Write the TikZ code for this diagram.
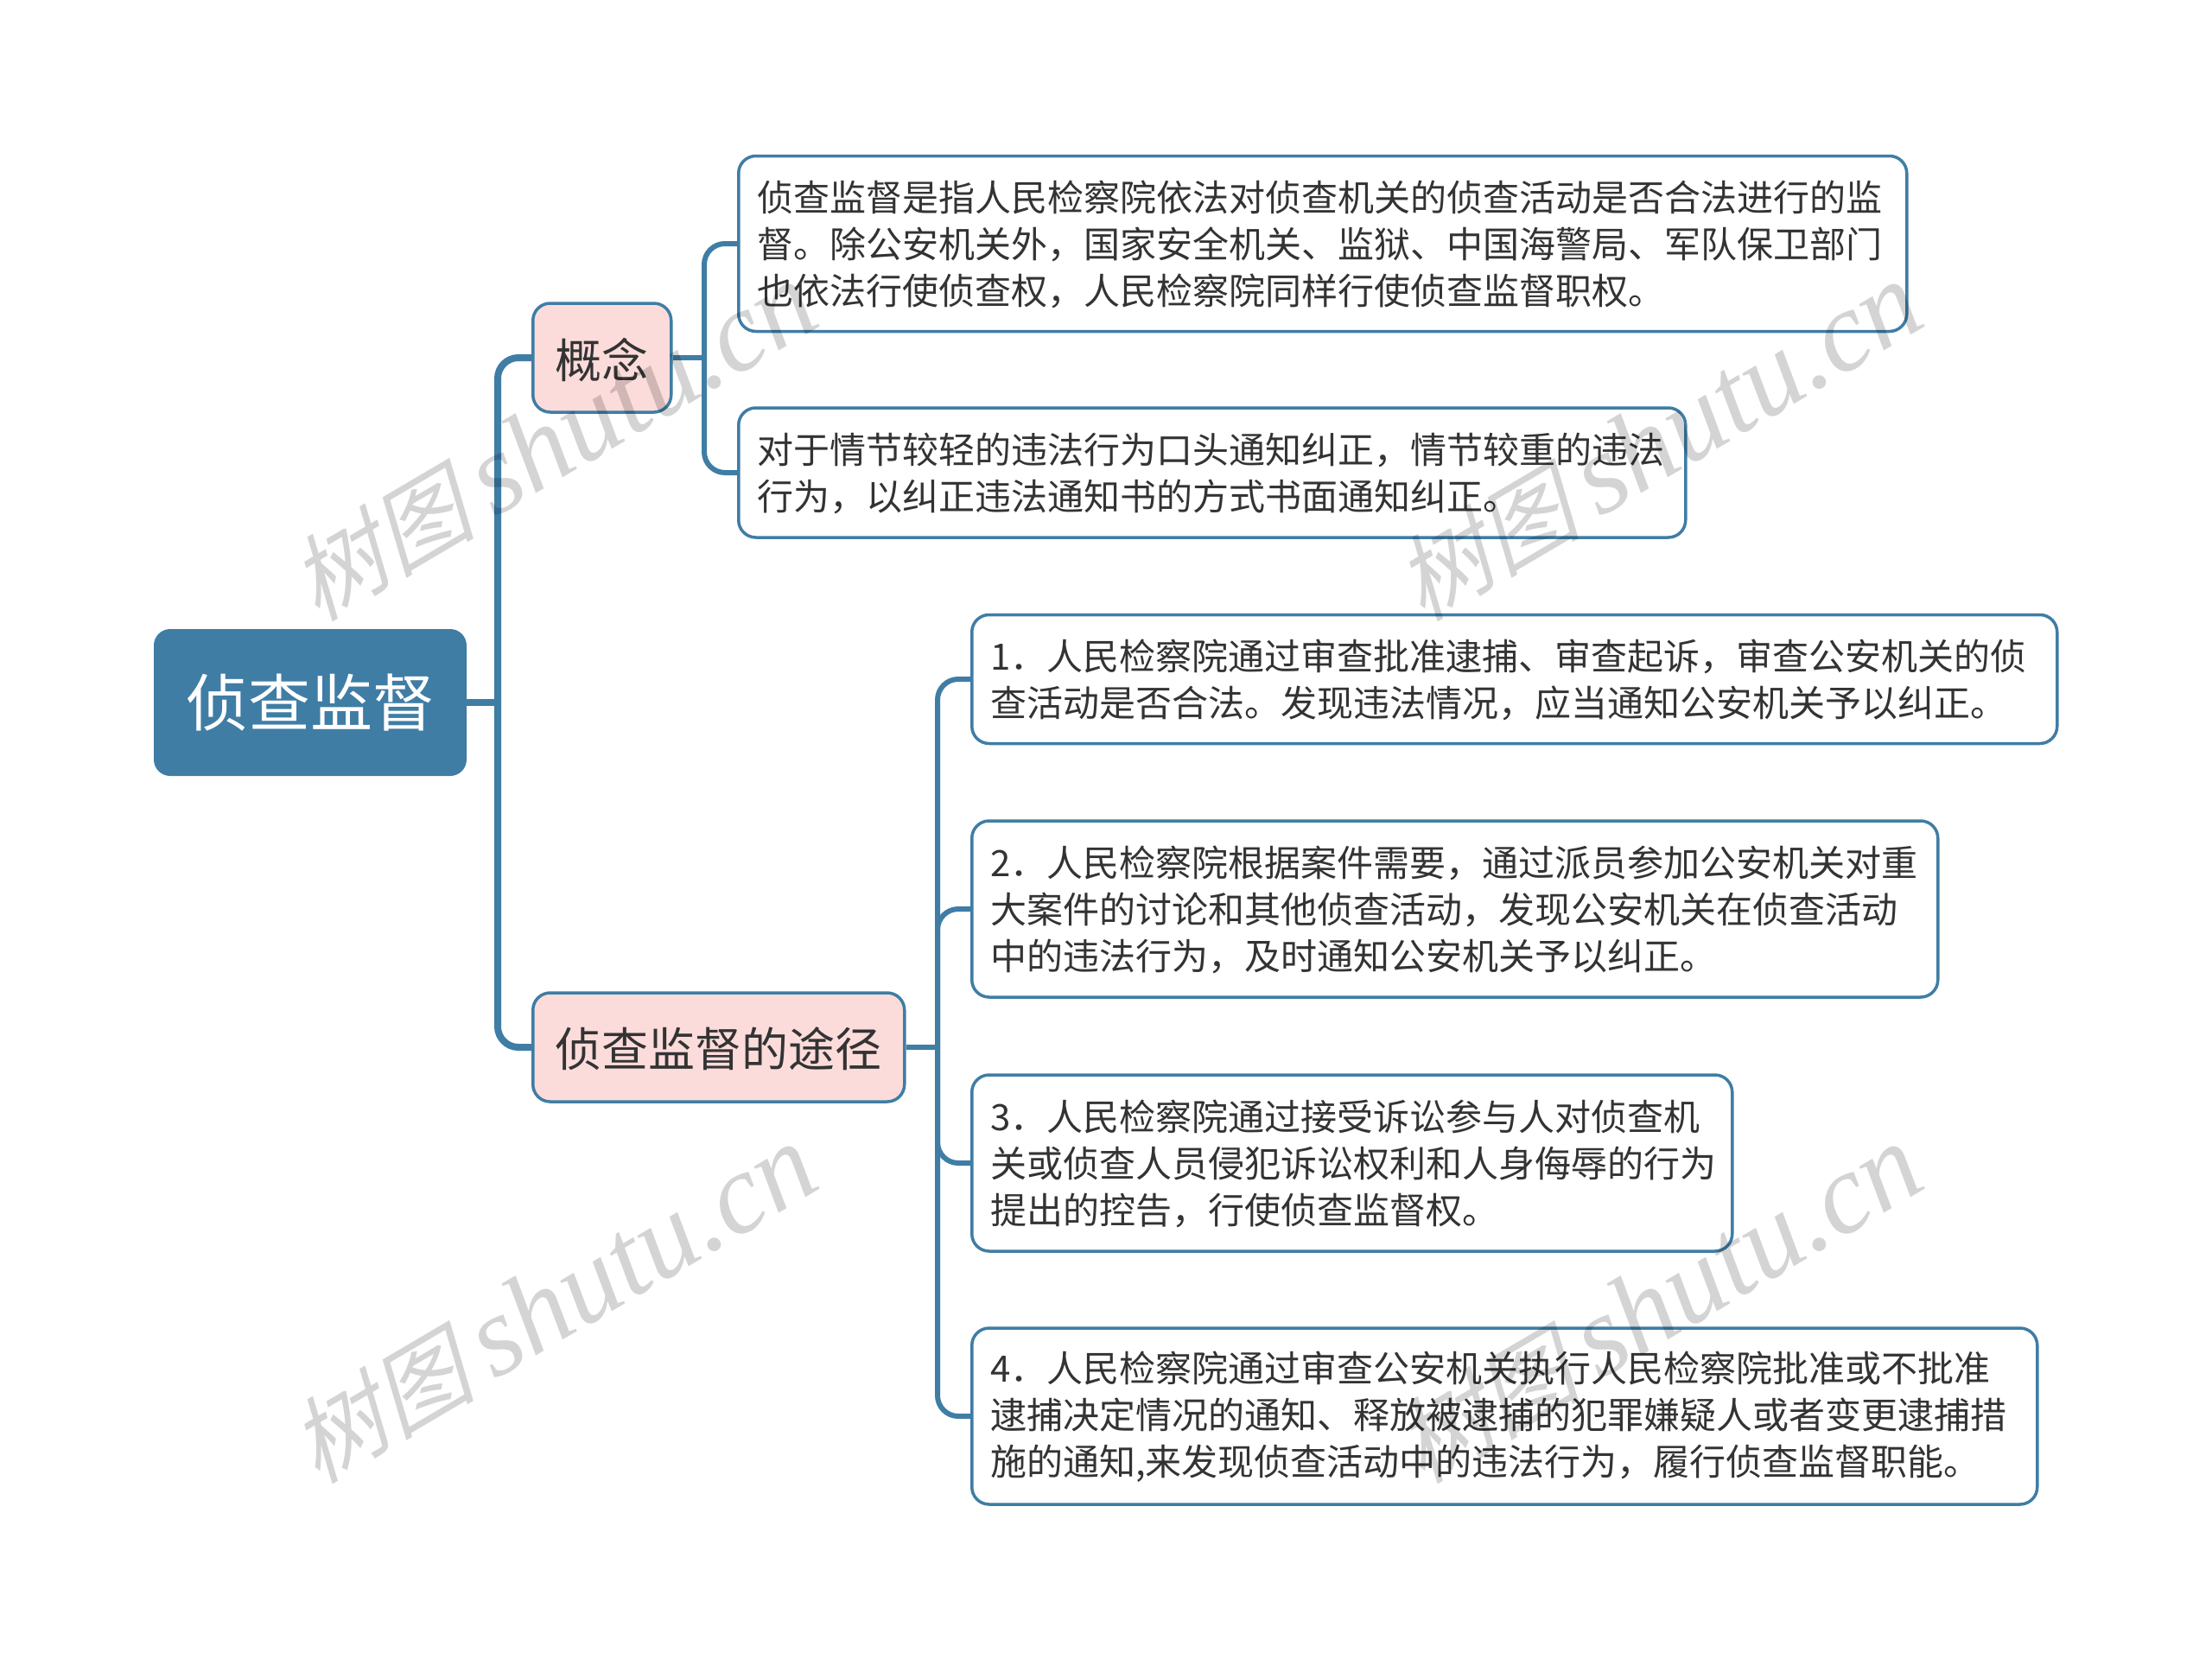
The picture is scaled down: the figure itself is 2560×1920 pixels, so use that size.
\documentclass[tikz,border=0pt]{standalone}
\usepackage{fontspec}
\setmainfont{Noto Sans CJK SC}
\newfontfamily\markcjk[FakeSlant=0.25]{Noto Sans CJK SC}
\newfontfamily\marklatin{Liberation Serif}
\newcommand{\marktext}{{\fontsize{108}{108}\selectfont\markcjk 树图}\hspace{22pt}{\fontsize{132}{132}\selectfont\marklatin\itshape shutu.cn}}
\definecolor{linkblue}{HTML}{3F7DA5}
\definecolor{pinkfill}{HTML}{FCDCDB}
\definecolor{inkgray}{HTML}{333333}
\tikzset{
    rootbox/.style={draw=linkblue, fill=linkblue, line width=2pt, rounded corners=18pt,
    text=white, font=\fontsize{72}{90}\selectfont, align=center, inner sep=0pt},
    topicbox/.style={draw=linkblue, fill=pinkfill, line width=3.5pt, rounded corners=20pt,
    text=inkgray, font=\fontsize{54}{66}\selectfont, inner sep=0pt, anchor=west, text depth=0pt},
    textbox/.style={draw=linkblue, fill=white, line width=3.5pt, rounded corners=20pt,
    text=inkgray, font=\fontsize{42}{54}\selectfont, align=left, inner xsep=21.5pt, inner ysep=0pt, anchor=west,
    execute at end node={\vspace{-1.5pt}}},
    mainlink/.style={draw=linkblue, line width=8pt, rounded corners=24pt},
    sublink/.style={draw=linkblue, line width=6pt, rounded corners=24pt},
    wmark/.style={text=black, text opacity=0.17, rotate=30.5, inner sep=0pt}
}
\begin{document}
\begin{tikzpicture}[x=1pt, y=-1pt]
    \useasboundingbox (0,0) rectangle (2560,1920);

    \node[rootbox, minimum width=360pt, minimum height=168pt] (Root) at (359,813) {侦查监督};

    \node[topicbox, minimum width=160pt, minimum height=126pt] (A) at (615,414) {概念};
    \node[topicbox, minimum width=430pt, minimum height=126pt] (B) at (615,1212) {侦查监督的途径};

    \node[textbox, text width=1309pt, minimum height=203pt] (A1) at (853,282) {侦查监督是指人民检察院依法对侦查机关的侦查活动是否合法进行的监\\督。除公安机关外，国家安全机关、监狱、中国海警局、军队保卫部门\\也依法行使侦查权，人民检察院同样行使侦查监督职权。};
    \node[textbox, text width=1053pt, minimum height=150pt] (A2) at (853,547) {对于情节较轻的违法行为口头通知纠正，情节较重的违法\\行为，以纠正违法通知书的方式书面通知纠正。};

    \node[textbox, text width=1213pt, minimum height=149pt] (B1) at (1123,786) {1．人民检察院通过审查批准逮捕、审查起诉，审查公安机关的侦\\查活动是否合法。发现违法情况，应当通知公安机关予以纠正。};
    \node[textbox, text width=1075pt, minimum height=204pt] (B2) at (1123,1052) {2．人民检察院根据案件需要，通过派员参加公安机关对重\\大案件的讨论和其他侦查活动，发现公安机关在侦查活动\\中的违法行为，及时通知公安机关予以纠正。};
    \node[textbox, text width=837pt, minimum height=204pt] (B3) at (1123,1346) {3．人民检察院通过接受诉讼参与人对侦查机\\关或侦查人员侵犯诉讼权利和人身侮辱的行为\\提出的控告，行使侦查监督权。};
    \node[textbox, text width=1190pt, minimum height=204pt] (B4) at (1123,1639) {4．人民检察院通过审查公安机关执行人民检察院批准或不批准\\逮捕决定情况的通知、释放被逮捕的犯罪嫌疑人或者变更逮捕措\\施的通知,来发现侦查活动中的违法行为，履行侦查监督职能。};

    \coordinate (X) at (576,813);
    \coordinate (Y) at (815,414);
    \coordinate (Z) at (1085,1212);

    \draw[mainlink] (Root.east) -- (X);
    \draw[mainlink] (X) |- (A.west);
    \draw[mainlink] (X) |- (B.west);

    \draw[sublink] (A.east) -- (Y);
    \draw[sublink] (Y) |- (A1.west);
    \draw[sublink] (Y) |- (A2.west);

    \draw[sublink] (B.east) -- (Z);
    \draw[sublink] (Z) |- (B1.west);
    \draw[sublink] (Z) |- (B2.west);
    \draw[sublink] (Z) |- (B3.west);
    \draw[sublink] (Z) |- (B4.west);

    \node[wmark] (M1) at (640,512) {\marktext};
    \node[wmark] (M2) at (1919,512) {\marktext};
    \node[wmark] (M3) at (640,1510) {\marktext};
    \node[wmark] (M4) at (1919,1510) {\marktext};
\end{tikzpicture}
\end{document}
